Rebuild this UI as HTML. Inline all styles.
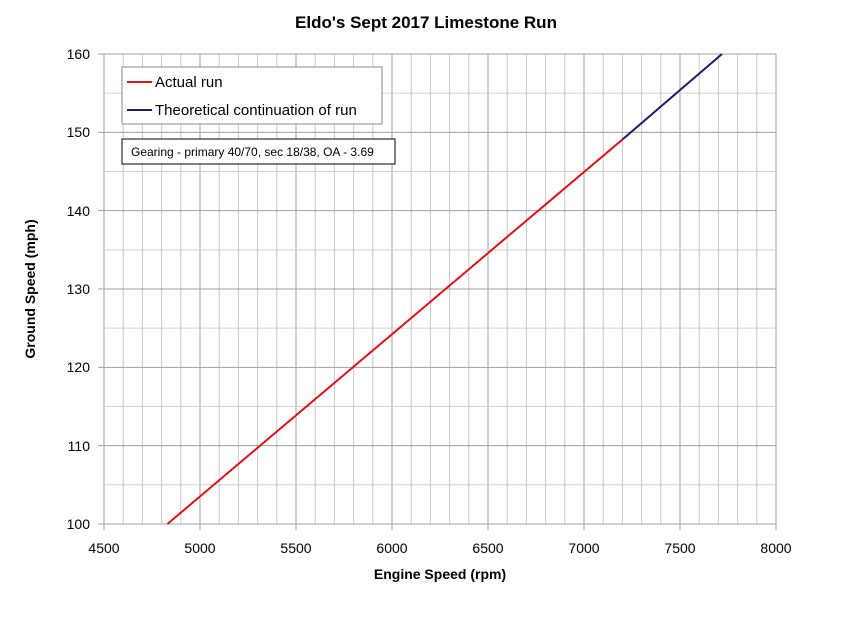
<!DOCTYPE html>
<html><head><style>body{margin:0;background:#fff}</style></head><body>
<svg width="853" height="619" xmlns="http://www.w3.org/2000/svg" font-family="Liberation Sans, sans-serif">
<rect width="853" height="619" fill="#fff"/>
<g id="g"></g>
<text x="426" y="28" text-anchor="middle" font-size="17" font-weight="bold">Eldo's Sept 2017 Limestone Run</text>
<g font-size="14" text-anchor="end" fill="#000">
<text x="90" y="59">160</text><text x="90" y="137">150</text><text x="90" y="216">140</text>
<text x="90" y="294">130</text><text x="90" y="372">120</text><text x="90" y="451">110</text><text x="90" y="529">100</text>
</g>
<g font-size="14" text-anchor="middle">
<text x="104" y="553">4500</text><text x="200" y="553">5000</text><text x="296" y="553">5500</text>
<text x="392" y="553">6000</text><text x="488" y="553">6500</text><text x="584" y="553">7000</text>
<text x="680" y="553">7500</text><text x="776" y="553">8000</text>
</g>
<text x="440" y="579" text-anchor="middle" font-size="14" font-weight="bold">Engine Speed (rpm)</text>
<text transform="translate(35,289) rotate(-90)" text-anchor="middle" font-size="14" font-weight="bold">Ground Speed (mph)</text>
<line x1="167.4" y1="524" x2="622.7" y2="139.3" stroke="#d9141c" stroke-width="2"/>
<line x1="622.7" y1="139.3" x2="722" y2="54" stroke="#1f1a6e" stroke-width="2"/>
<rect x="122" y="67" width="260" height="57" fill="#fff" stroke="#888"/>
<line x1="127" y1="82" x2="152" y2="82" stroke="#d9141c" stroke-width="2"/>
<text x="155" y="87" font-size="15">Actual run</text>
<line x1="127" y1="110" x2="152" y2="110" stroke="#1f1a6e" stroke-width="2"/>
<text x="155" y="115" font-size="15">Theoretical continuation of run</text>
<rect x="122" y="139" width="273" height="25" fill="#fff" stroke="#000"/>
<text x="131" y="156" font-size="12">Gearing - primary 40/70,  sec 18/38, OA - 3.69</text>
</svg>
<script>
var g=document.getElementById('g'),s='';
for(var i=0;i<=35;i++){var x=104+i*19.2;var maj=i%5==0;
s+='<line x1="'+x+'" y1="54" x2="'+x+'" y2="'+(maj?530:524)+'" stroke="'+(maj?'#a0a0a0':'#c8c8c8')+'" stroke-width="1"/>';}
for(var j=0;j<=12;j++){var y=54+j*470/12;var maj=j%2==0;
s+='<line x1="'+(maj?98:104)+'" y1="'+y+'" x2="776" y2="'+y+'" stroke="'+(maj?'#a0a0a0':'#d0d0d0')+'" stroke-width="1"/>';}
g.innerHTML=s;
</script>
</body></html>
